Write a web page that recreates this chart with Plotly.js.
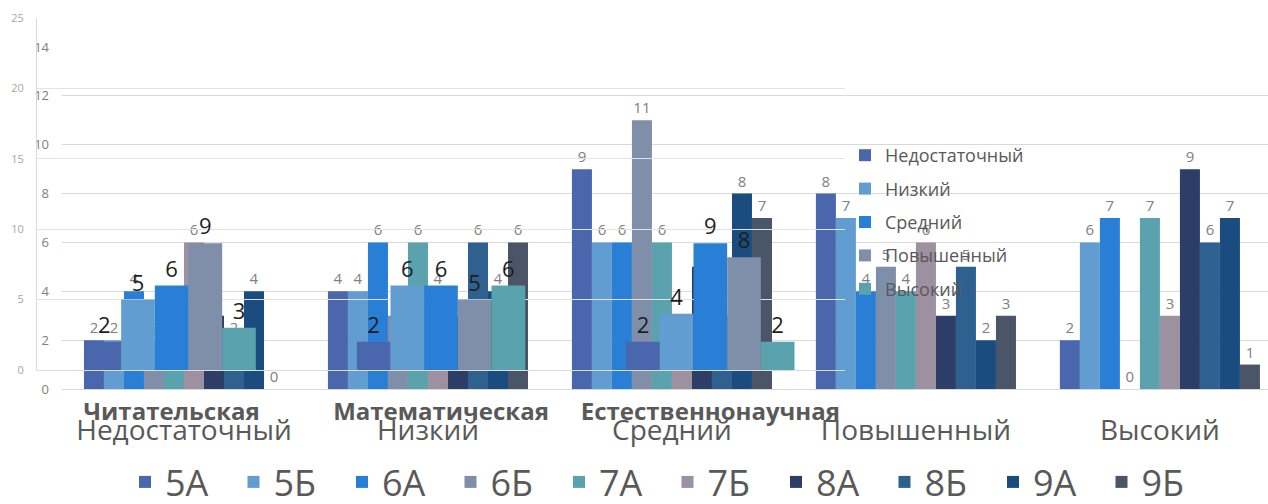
<!DOCTYPE html>
<html><head><meta charset="utf-8">
<script src="https://cdn.plot.ly/plotly-3.0.1.min.js"></script>
<style>html,body{margin:0;padding:0;overflow:hidden;background:#fff}#chart{width:1268px;height:504px;overflow:hidden}</style>
</head><body><div id="chart"></div>
<script>
// ---- main chart: classes by level ----
const levels = ["Недостаточный", "Низкий", "Средний", "Повышенный", "Высокий"];
const classes = ["5А", "5Б", "6А", "6Б", "7А", "7Б", "8А", "8Б", "9А", "9Б"];
const v5A = [2, 4, 9, 8, 2];
const v5B = [2, 4, 6, 7, 6];
const v6A = [4, 6, 6, 4, 7];
const v6B = [2, 3, 11, 5, 0];
const v7A = [1, 6, 6, 4, 7];
const v7B = [6, 4, 2, 6, 3];
const v8A = [3, 3, 5, 3, 9];
const v8B = [2, 6, 3, 5, 6];
const v9A = [4, 4, 8, 2, 7];
const v9B = [0, 6, 7, 3, 1];
const classValues = [v5A, v5B, v6A, v6B, v7A, v7B, v8A, v8B, v9A, v9B];
const mainTicks = [0, 2, 4, 6, 8, 10, 12, 14];

// ---- overlaid chart: literacy types by level ----
const subjects = ["Читательская", "Математическая", "Естественнонаучная"];
const sNedost = [2, 2, 2];
const sNizkiy = [5, 6, 4];
const sSredniy = [6, 6, 9];
const sPovysh = [9, 5, 8];
const sVysokiy = [3, 6, 2];
const subjectValues = [sNedost, sNizkiy, sSredniy, sPovysh, sVysokiy];
const subTicks = [0, 5, 10, 15, 20, 25];

const colors = ["#4A66AC", "#629DD1", "#297FD5", "#7F8FA9", "#5AA2AE",
                "#9D90A0", "#2C3D67", "#2E6090", "#1B4C80", "#4A5567"];

const W = 1268, H = 520;   // drawing is a little taller than the 504px window; bottom is cropped
const FONT = "'Open Sans', 'DejaVu Sans', sans-serif";
const xd = (l, r) => [l / W, r / W];
const yd = (top, bottom) => [(H - bottom) / H, (H - top) / H];

const traces = [];
classes.forEach((c, i) => {
  traces.push({
    type: 'bar', x: levels, y: classValues[i], name: c,
    marker: {color: colors[i]},
    texttemplate: '%{y}', textposition: 'outside', constraintext: 'none', cliponaxis: false,
    textfont: {family: FONT, size: 15, color: '#808080'},
    xaxis: 'x', yaxis: 'y', legend: 'legend', hoverinfo: 'skip'
  });
});
const bw2 = 0.125;
levels.forEach((lv, j) => {
  traces.push({
    type: 'bar', x: subjects, y: subjectValues[j], name: lv,
    marker: {color: colors[j]}, width: bw2, offset: -2.5 * bw2 + j * bw2,
    texttemplate: '%{y}', textposition: 'outside', constraintext: 'none', cliponaxis: false,
    textfont: {family: FONT, size: 22, color: '#1e1e1e'},
    xaxis: 'x2', yaxis: 'y2', legend: 'legend2', legendgroup: 'g' + j, hoverinfo: 'skip'
  });
});

const layout = {
  width: W, height: H,
  margin: {l: 0, r: 0, t: 0, b: 0, autoexpand: false},
  paper_bgcolor: '#ffffff', plot_bgcolor: 'rgba(0,0,0,0)',
  font: {family: FONT, color: '#595959'},
  barmode: 'group', bargap: 0.18, bargroupgap: 0,
  showlegend: true,
  xaxis: {
    domain: xd(62, 1268), anchor: 'y', type: 'category', range: [-0.5, 4.443],
    showgrid: false, zeroline: false, showline: true, linecolor: '#d9d9d9', linewidth: 1,
    ticks: '', tickangle: 0, tickfont: {family: FONT, size: 28, color: '#595959'}, ticklabelstandoff: 16
  },
  yaxis: {
    domain: yd(47, 389), anchor: 'x', range: [0, 14], tickvals: mainTicks,
    showgrid: true, gridcolor: '#d9d9d9', gridwidth: 1, zeroline: false, showline: false,
    ticks: '', tickfont: {family: FONT, size: 13, color: '#808080'}, ticklabelstandoff: 12
  },
  xaxis2: {
    domain: xd(37, 845), anchor: 'y2', type: 'category', range: [-0.5, 2.5],
    showgrid: false, zeroline: false, showline: true, linecolor: '#dcdcdc', linewidth: 1,
    ticks: '', tickangle: 0, tickfont: {family: FONT, size: 24, weight: 'bold', color: '#595959'}, ticklabelstandoff: 20
  },
  yaxis2: {
    domain: yd(18, 370), anchor: 'x2', range: [0, 25], tickvals: subTicks,
    showgrid: true, gridcolor: '#e3e3e3', gridwidth: 1, zeroline: false,
    showline: true, linecolor: '#d9d9d9', linewidth: 1,
    ticks: '', tickfont: {family: FONT, size: 11, color: '#a6a6a6'}, ticklabelstandoff: 10
  },
  legend: {
    orientation: 'h', xref: 'paper', yref: 'paper',
    x: 125 / W, xanchor: 'left', y: (H - 482) / H, yanchor: 'middle',
    font: {family: FONT, size: 36, color: '#595959'},
    entrywidth: 63.5, entrywidthmode: 'pixels', bgcolor: 'rgba(0,0,0,0)'
  },
  legend2: {
    orientation: 'v', xref: 'paper', yref: 'paper',
    x: 845 / W, xanchor: 'left', y: (H - 137) / H, yanchor: 'top',
    font: {family: FONT, size: 18, color: '#595959'},
    tracegroupgap: 7, bgcolor: 'rgba(0,0,0,0)'
  }
};

Plotly.newPlot('chart', traces, layout, {displayModeBar: false, staticPlot: true});
</script>
</body></html>
